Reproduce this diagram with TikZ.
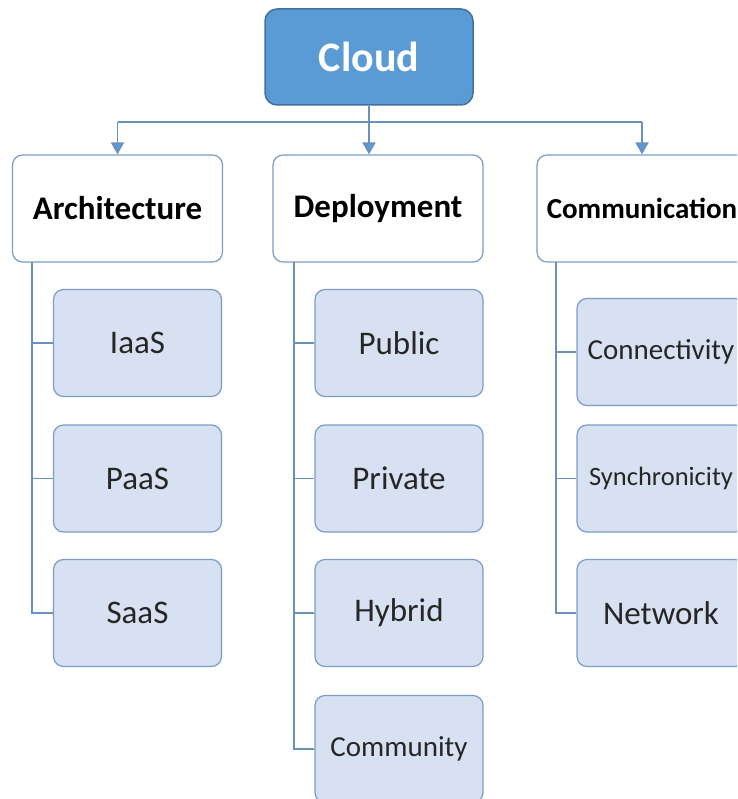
\documentclass[tikz,border=0pt]{standalone}
\usepackage{fontspec}
\setmainfont{Carlito}
\usetikzlibrary{arrows.meta}
\definecolor{cloudfill}{HTML}{5B9BD5}
\definecolor{clouddraw}{HTML}{41719C}
\definecolor{leafill}{HTML}{D7E1F1}
\definecolor{boxdraw}{HTML}{7B9CC7}
\definecolor{linkcol}{HTML}{6A90BE}
\definecolor{leaftext}{HTML}{262626}

\begin{document}
\begin{tikzpicture}[x=1pt, y=-1pt,
  root/.style={draw=clouddraw, line width=1.5pt, fill=cloudfill, rounded corners=12pt,
    minimum width=208pt, minimum height=96pt, text=white, font=\fontsize{42}{48}\selectfont\bfseries},
  group/.style={draw=boxdraw, line width=1.2pt, fill=white, rounded corners=10pt,
    minimum width=210pt, minimum height=107pt, font=\fontsize{33}{38}\selectfont\bfseries},
  leaf/.style={draw=boxdraw, line width=1.2pt, fill=leafill, rounded corners=10pt,
    minimum width=168pt, minimum height=107pt, text=leaftext, font=\fontsize{33}{38}\selectfont},
  link/.style={draw=linkcol, line width=1.8pt},
  arrow/.style={link, -{Triangle[length=12pt, width=13pt, fill=cloudfill]}}]
  \useasboundingbox (0,0) rectangle (737,799);
  \clip (0,0) rectangle (737,799);
  % root
  \node[root] (cloud) at (369,57) {Cloud};
  % groups
  \node[group] (arch) at (117.5,208.5) {Architecture};
  \node[group] (depl) at (378,208.5) {Deployment};
  \node[group, font=\fontsize{29}{34}\selectfont\bfseries] (comm) at (642,208.5) {Communication};
  % architecture leaves
  \node[leaf] (iaas) at (137.5,343) {IaaS};
  \node[leaf] (paas) at (137.5,478.5) {PaaS};
  \node[leaf] (saas) at (137.5,613) {SaaS};
  % deployment leaves
  \node[leaf] (public) at (399,343) {Public};
  \node[leaf] (private) at (399,478.5) {Private};
  \node[leaf] (hybrid) at (399,613) {Hybrid};
  \node[leaf, font=\fontsize{29}{34}\selectfont] (community) at (399,749) {Community};
  % communication leaves
  \node[leaf, font=\fontsize{29}{34}\selectfont] (connect) at (661,352) {Connectivity};
  \node[leaf, font=\fontsize{26.5}{31}\selectfont] (sync) at (661,478.5) {Synchronicity};
  \node[leaf] (network) at (661,613) {Network};
  % bus from the root
  \coordinate (bus) at (369,122);
  \draw[link] (cloud.south) -- (bus);
  \draw[link] (bus -| arch) -- (bus -| comm);
  \draw[arrow] (bus -| arch) -- (arch.north);
  \draw[arrow] (bus) -- (bus |- depl.north);
  \draw[arrow] (bus -| comm) -- (comm.north);
  % trunks
  \coordinate (ta) at (32,262);
  \coordinate (td) at (294,262);
  \coordinate (tc) at (556,262);
  \draw[link] (ta) |- (saas.west);
  \draw[link] (iaas.west) -- (iaas.west -| ta);
  \draw[link] (paas.west) -- (paas.west -| ta);
  \draw[link] (td) |- (community.west);
  \draw[link] (public.west) -- (public.west -| td);
  \draw[link] (private.west) -- (private.west -| td);
  \draw[link] (hybrid.west) -- (hybrid.west -| td);
  \draw[link] (tc) |- (network.west);
  \draw[link] (connect.west) -- (connect.west -| tc);
  \draw[link] (sync.west) -- (sync.west -| tc);
\end{tikzpicture}
\end{document}
